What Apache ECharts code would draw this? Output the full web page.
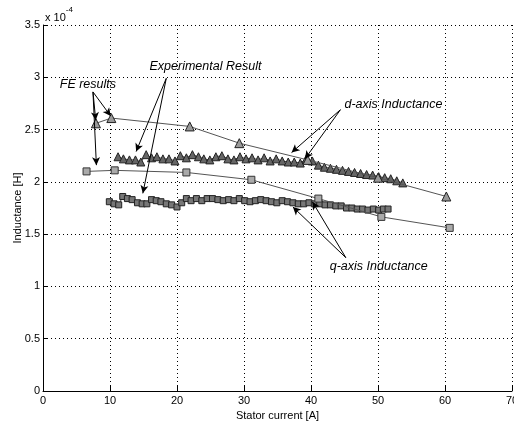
<!DOCTYPE html>
<html>
<head>
<meta charset="utf-8">
<script src="https://cdn.jsdelivr.net/npm/echarts@6/dist/echarts.min.js"></script>
<style>
  html, body { margin: 0; padding: 0; background: #fff; }
  #chart { width: 514px; height: 421px; }
</style>
</head>
<body>
<div id="chart"></div>
<script>
// inductance values are in units of 1e-4 H
const feDX = [7.9, 10.2, 21.9, 29.3, 39.5, 50.0, 60.2];
const feDY = [2.56, 2.61, 2.53, 2.37, 2.21, 2.04, 1.86];

const feQX = [6.5, 10.7, 21.4, 31.1, 41.1, 50.5, 60.7];
const feQY = [2.10, 2.11, 2.09, 2.02, 1.84, 1.665, 1.56];

const expDX = [11.2, 12.0, 12.9, 13.8, 14.6, 15.4, 16.2, 17.0, 17.9, 18.8,
  19.7, 20.5, 21.4, 22.3, 23.2, 24.0, 24.9, 25.8, 26.7, 27.6,
  28.5, 29.4, 30.3, 31.2, 32.1, 33.0, 33.9, 34.8, 35.7, 36.6,
  37.5, 38.4, 39.3, 40.2, 41.1, 42.0, 42.9, 43.8, 44.7, 45.6,
  46.5, 47.4, 48.3, 49.2, 50.1, 51.0, 51.9, 52.8, 53.7];
const expDY = [2.24, 2.22, 2.21, 2.21, 2.19, 2.26, 2.23, 2.24, 2.22, 2.22,
  2.20, 2.25, 2.23, 2.26, 2.24, 2.22, 2.21, 2.24, 2.25, 2.22,
  2.21, 2.24, 2.22, 2.23, 2.21, 2.23, 2.20, 2.22, 2.20, 2.19,
  2.19, 2.18, 2.22, 2.20, 2.16, 2.14, 2.13, 2.12, 2.11, 2.10,
  2.09, 2.08, 2.07, 2.065, 2.05, 2.04, 2.03, 2.01, 1.99];

const expQX = [9.9, 10.6, 11.3, 11.9, 12.6, 13.3, 14.1, 14.8, 15.5, 16.2,
  16.9, 17.6, 18.4, 19.2, 20.0, 20.7, 21.4, 22.1, 22.9, 23.7,
  24.5, 25.3, 26.1, 26.9, 27.7, 28.5, 29.3, 30.1, 30.9, 31.7,
  32.5, 33.3, 34.1, 34.9, 35.7, 36.5, 37.3, 38.1, 38.9, 39.7,
  40.5, 41.3, 42.1, 42.9, 43.7, 44.5, 45.3, 46.1, 46.9, 47.7,
  48.5, 49.3, 50.1, 50.8, 51.5];
const expQY = [1.81, 1.79, 1.78, 1.86, 1.84, 1.83, 1.80, 1.79, 1.79, 1.83,
  1.82, 1.81, 1.79, 1.78, 1.76, 1.80, 1.84, 1.82, 1.84, 1.82,
  1.84, 1.84, 1.83, 1.82, 1.83, 1.82, 1.84, 1.82, 1.81, 1.82,
  1.83, 1.82, 1.81, 1.80, 1.82, 1.81, 1.80, 1.79, 1.79, 1.80,
  1.79, 1.79, 1.78, 1.78, 1.77, 1.77, 1.75, 1.75, 1.74, 1.74,
  1.73, 1.74, 1.73, 1.74, 1.74];

// annotation labels: [text, x, y] in data units (left edge, middle)
const notes = [
  ["FE results", 2.5, 2.93],
  ["Experimental Result", 15.9, 3.1],
  ["d-axis Inductance", 45.0, 2.74],
  ["q-axis Inductance", 42.8, 1.19],
];
// arrows: [fromX, fromY, toX, toY]
const arrows = [
  [7.46, 2.86, 7.87, 2.59],
  [7.46, 2.86, 10.1, 2.63],
  [7.46, 2.86, 7.97, 2.16],
  [18.4, 2.99, 13.9, 2.29],
  [18.4, 2.99, 14.9, 1.89],
  [44.4, 2.69, 37.1, 2.28],
  [44.4, 2.69, 39.1, 2.22],
  [45.2, 1.275, 37.3, 1.76],
  [45.2, 1.275, 40.2, 1.81],
];

const zip = (xs, ys) => xs.map((x, i) => [x, ys[i]]);

const chart = echarts.init(document.getElementById("chart"));
const font = "Liberation Sans";
const dotted = { type: [1, 3], color: "#000", width: 1 };

chart.setOption({
  animation: false,
  backgroundColor: "#fff",
  textStyle: { fontFamily: font },
  grid: { left: 43, right: 2, top: 25, bottom: 30, outerBoundsMode: "none" },
  xAxis: {
    type: "value",
    min: 0,
    max: 70,
    interval: 10,
    name: "Stator current [A]",
    nameLocation: "middle",
    nameGap: 19,
    nameMoveOverlap: false,
    nameTextStyle: { color: "#000", fontSize: 11, fontFamily: font },
    axisLine: { lineStyle: { color: "#000", width: 1 } },
    axisTick: { inside: true, length: 5, lineStyle: { color: "#000" } },
    axisLabel: { color: "#000", fontSize: 11, margin: 4, fontFamily: font },
    splitLine: { show: true, lineStyle: dotted },
  },
  yAxis: {
    type: "value",
    min: 0,
    max: 3.5,
    interval: 0.5,
    name: "Inductance [H]",
    nameLocation: "middle",
    nameGap: 20,
    nameMoveOverlap: false,
    nameTextStyle: { color: "#000", fontSize: 11, fontFamily: font },
    axisLine: { show: true, lineStyle: { color: "#000", width: 1 } },
    axisTick: { show: true, inside: true, length: 5, lineStyle: { color: "#000" } },
    axisLabel: { color: "#000", fontSize: 11, margin: 3, fontFamily: font },
    splitLine: { show: true, lineStyle: dotted },
  },
  graphic: [
    {
      type: "text",
      left: 45,
      top: 6,
      style: {
        text: "{a|x 10}{b|-4}",
        rich: {
          a: { fontSize: 11, fontFamily: font, fill: "#000", verticalAlign: "bottom", padding: [6, 0, 0, 0] },
          b: { fontSize: 8, fontFamily: font, fill: "#000", verticalAlign: "top" },
        },
      },
    },
  ],
  series: [
    {
      name: "FE d-axis",
      type: "line",
      data: zip(feDX, feDY),
      symbol: "triangle",
      symbolSize: 9,
      lineStyle: { color: "#555", width: 1 },
      itemStyle: { color: "#999", borderColor: "#222", borderWidth: 1 },
      z: 3,
      markLine: {
        silent: true,
        symbol: ["none", "arrow"],
        symbolSize: [6, 8],
        label: { show: false },
        lineStyle: { color: "#000", width: 1, type: "solid" },
        data: arrows.map((a) => [{ coord: [a[0], a[1]] }, { coord: [a[2], a[3]] }]),
      },
      markPoint: {
        silent: true,
        symbol: "circle",
        symbolSize: 0,
        label: {
          show: true,
          position: "right",
          distance: 0,
          formatter: "{b}",
          color: "#000",
          fontSize: 12.5,
          fontStyle: "italic",
          fontFamily: font,
        },
        data: notes.map((n) => ({ name: n[0], coord: [n[1], n[2]] })),
      },
    },
    {
      name: "FE q-axis",
      type: "line",
      data: zip(feQX, feQY),
      symbol: "rect",
      symbolSize: 7,
      lineStyle: { color: "#555", width: 1 },
      itemStyle: { color: "#aaa", borderColor: "#333", borderWidth: 1 },
      z: 3,
    },
    {
      name: "Experimental d-axis",
      type: "line",
      data: zip(expDX, expDY),
      symbol: "triangle",
      symbolSize: 8,
      lineStyle: { color: "#444", width: 1 },
      itemStyle: { color: "#666", borderColor: "#222", borderWidth: 1 },
      z: 2,
    },
    {
      name: "Experimental q-axis",
      type: "line",
      data: zip(expQX, expQY),
      symbol: "rect",
      symbolSize: 6,
      lineStyle: { color: "#444", width: 1 },
      itemStyle: { color: "#777", borderColor: "#222", borderWidth: 1 },
      z: 2,
    },
  ],
});
</script>
</body>
</html>
